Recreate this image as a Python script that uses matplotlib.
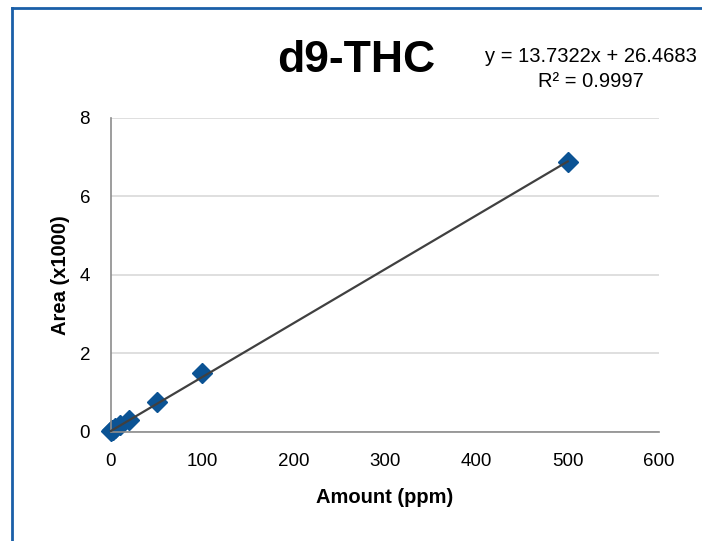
import matplotlib.pyplot as plt
import numpy as np
from matplotlib.lines import Line2D

plt.rcParams['font.family'] = ['Liberation Sans', 'DejaVu Sans']

# calibration points, area in thousands
amount = [0.5, 1, 2.5, 5, 10, 20, 50, 100, 500]
area = [0.02, 0.04, 0.06, 0.1, 0.17, 0.3, 0.76, 1.5, 6.87]
slope = 13.7322
intercept = 26.4683
r2 = 0.9997

fig = plt.figure(figsize=(7.02, 5.41), dpi=100)
ax = fig.add_axes([0.158, 0.2015, 0.781, 0.5805])

xfit = np.array([0, 500])
ax.plot(xfit, (slope * xfit + intercept) / 1000, color='#404040', lw=1.6, zorder=3, clip_on=False)
ax.plot(amount, area, 'D', color='#0b5394', markersize=10, zorder=2, clip_on=False)

ax.set_xlim(0, 600)
ax.set_ylim(0, 8)
ax.set_xticks(range(0, 601, 100))
ax.set_yticks(range(0, 9, 2))
ax.grid(axis='y', color='#d9d9d9', lw=1.2)
ax.set_axisbelow(True)
for s in ['top', 'right']:
    ax.spines[s].set_visible(False)
for s in ['left', 'bottom']:
    ax.spines[s].set_color('#8c8c8c')
    ax.spines[s].set_linewidth(1.2)
ax.tick_params(length=0, labelsize=13.5)
ax.tick_params(axis='x', pad=15)
ax.tick_params(axis='y', pad=15)

ax.set_xlabel('Amount (ppm)', fontsize=14.5, fontweight='bold', labelpad=13)
ax.set_ylabel('Area (x1000)', fontsize=14.5, fontweight='bold', labelpad=7)

fig.text(0.508, 0.888, 'd9-THC', fontsize=32, fontweight='bold', ha='center', va='center')
fig.text(0.842, 0.872, 'y = %.4fx + %.4f\nR² = %.4f' % (slope, intercept, r2),
         fontsize=14.5, ha='center', va='center', linespacing=1.4)

# blue frame on the left and top
fig.add_artist(Line2D([0.017, 0.017], [0, 0.985], color='#1a5fa8', lw=2))
fig.add_artist(Line2D([0.017, 1], [0.985, 0.985], color='#1a5fa8', lw=2))

fig.savefig('out.png', dpi=100)
